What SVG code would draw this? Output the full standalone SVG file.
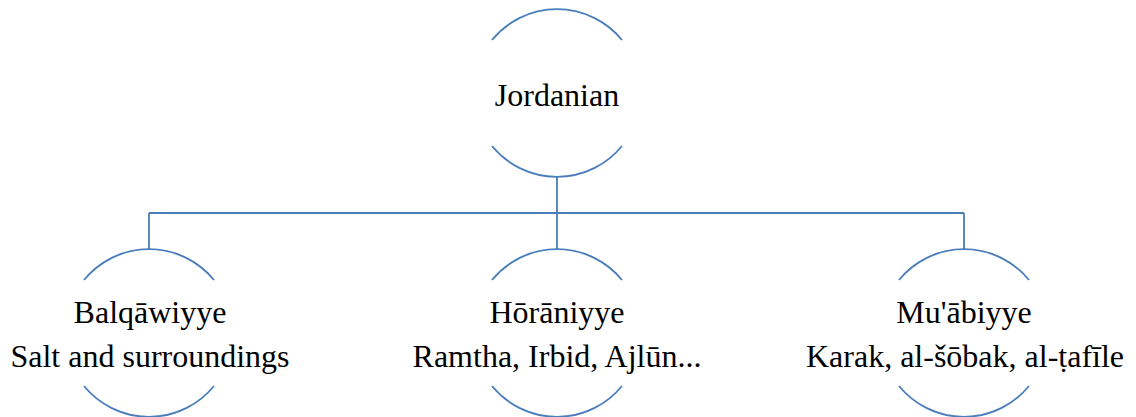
<svg xmlns="http://www.w3.org/2000/svg" width="1136" height="417" viewBox="0 0 1136 417">
<style>
.arc{fill:none;stroke:#4a7ebb;stroke-width:1.8}
.con{fill:none;stroke:#4a7ebb;stroke-width:1.8}
text{font-family:"Liberation Serif","Times New Roman",serif;font-size:32px;fill:#000;text-anchor:middle}
</style>
<rect width="1136" height="417" fill="#fff"/>
<g id="connectors">
<path class="con" d="M557 177V213M149 213H964M149 213V249M557 213V249M964 213V249"/>
</g>
<g id="node-jordanian">
<path class="arc" d="M492 40A84 84 0 0 1 622 40"/>
<path class="arc" d="M492 146A84 84 0 0 0 622 146"/>
<text x="557" y="106">Jordanian</text>
</g>
<g id="node-balqawiyye">
<path class="arc" d="M84 280A84 84 0 0 1 214 280"/>
<path class="arc" d="M84 386A84 84 0 0 0 214 386"/>
<text x="150" y="323">Balqāwiyye</text>
<text x="150" y="367">Salt and surroundings</text>
</g>
<g id="node-horaniyye">
<path class="arc" d="M492 280A84 84 0 0 1 622 280"/>
<path class="arc" d="M492 386A84 84 0 0 0 622 386"/>
<text x="557" y="323">Hōrāniyye</text>
<text x="557" y="367">Ramtha, Irbid, Ajlūn...</text>
</g>
<g id="node-muabiyye">
<path class="arc" d="M899 280A84 84 0 0 1 1029 280"/>
<path class="arc" d="M899 386A84 84 0 0 0 1029 386"/>
<text x="964" y="323">Mu'ābiyye</text>
<text x="965" y="367">Karak, al-šōbak, al-ṭafīle</text>
</g>
</svg>
